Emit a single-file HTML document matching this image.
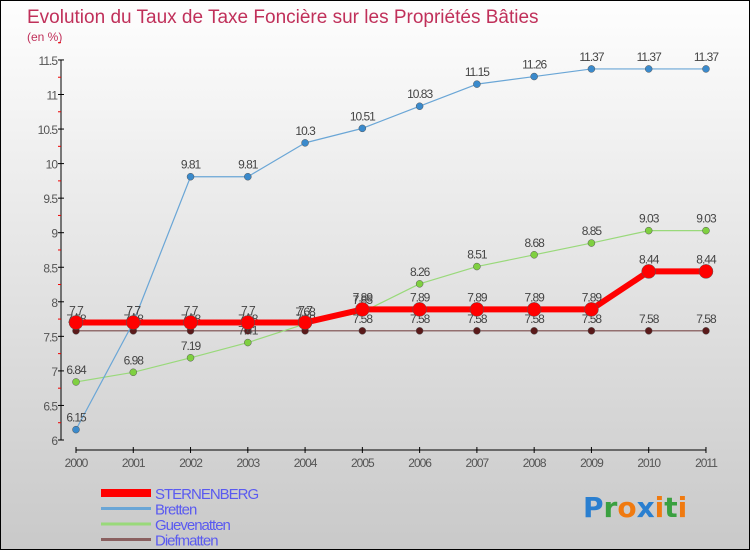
<!DOCTYPE html>
<html><head><meta charset="utf-8">
<style>
html,body{margin:0;padding:0}
body{width:750px;height:550px;overflow:hidden;font-family:"Liberation Sans",sans-serif}
#c{position:absolute;left:0;top:0;width:748px;height:548px;border:1px solid #000;background:linear-gradient(#fefefe,#c9c9c9)}
</style></head>
<body>
<div id="c">
<svg id="s" width="748" height="548"></svg>
</div>
<script>
const years=[2000,2001,2002,2003,2004,2005,2006,2007,2008,2009,2010,2011];
const sternenberg=[7.7,7.7,7.7,7.7,7.7,7.89,7.89,7.89,7.89,7.89,8.44,8.44];
const bretten=[6.15,7.7,9.81,9.81,10.3,10.51,10.83,11.15,11.26,11.37,11.37,11.37];
const guevenatten=[6.84,6.98,7.19,7.41,7.68,7.85,8.26,8.51,8.68,8.85,9.03,9.03];
const diefmatten=[7.58,7.58,7.58,7.58,7.58,7.58,7.58,7.58,7.58,7.58,7.58,7.58];
const yTicks=[6,6.5,7,7.5,8,8.5,9,9.5,10,10.5,11,11.5];
const NS="http://www.w3.org/2000/svg";
const svg=document.getElementById('s');
const X=i=>75+i*57.27;
const Y=v=>439-(v-6)*69.1;
function el(t,a,p){const e=document.createElementNS(NS,t);for(const k in a)e.setAttribute(k,a[k]);(p||svg).appendChild(e);return e;}
function txt(x,y,s,a){const e=el('text',Object.assign({x:x,y:y},a));e.textContent=s;return e;}
let t=txt(26,22,'Evolution du Taux de Taxe Foncière sur les Propriétés Bâties',{fill:'#c0305a','font-size':19});

t=txt(26,40,'(en %)',{fill:'#c0305a','font-size':12});

// axes
let a=el('line',{x1:60,y1:Y(11.5),x2:60,y2:Y(6),stroke:'#000'});

yTicks.forEach(v=>{
 el('line',{x1:57,x2:63,y1:Y(v),y2:Y(v),stroke:'#000'});
 el('line',{x1:57,x2:60,y1:Y(v+0.25),y2:Y(v+0.25),stroke:'#e00'});
 const l=txt(56,Y(v)+5,String(v),{fill:'#555','font-size':12,'text-anchor':'end','letter-spacing':'-1'});
 
});
a=el('line',{x1:X(0),y1:449,x2:X(11),y2:449,stroke:'#000'});

years.forEach((yr,i)=>{
 el('line',{x1:X(i),x2:X(i),y1:446,y2:452,stroke:'#000'});
 const l=txt(X(i),466,String(yr),{fill:'#555','font-size':12,'text-anchor':'middle','letter-spacing':'-1'});
 
});
function series(name,data,color,w,r,dot){
 const g=el('g',{});
 
 el('polyline',{points:data.map((v,i)=>X(i)+','+Y(v)).join(' '),fill:'none',stroke:color,'stroke-width':w,'stroke-linejoin':'round'},g);
 data.forEach((v,i)=>{
  const c=el('circle',{cx:X(i),cy:Y(v),r:r,fill:dot,stroke:'#555','stroke-width':0.5},g);
  
  txt(X(i),Y(v)-8,String(v),{fill:'#444','font-size':12,'text-anchor':'middle','letter-spacing':'-1'},g);
 });
}
series('diefmatten',diefmatten,'#7a4a4a',1.2,3.5,'#5a1a1a');
series('guevenatten',guevenatten,'#99d97a',1.2,3.5,'#7fd040');
series('bretten',bretten,'#6aa6d6',1.2,3.5,'#3a8acc');
series('sternenberg',sternenberg,'#f00',6,7,'#f00');
// legend
const leg=[['STERNENBERG','#f00',8],['Bretten','#6aa6d6',3],['Guevenatten','#99d97a',3],['Diefmatten','#8a6060',3]];
leg.forEach((d,i)=>{
 const g=el('g',{});
 
 const y=493+i*15.5;
 el('line',{x1:100,x2:150,y1:y-1,y2:y-1,stroke:d[1],'stroke-width':d[2]},g);
 txt(154,y+5,d[0],{fill:'#5a5af0','font-size':15,'letter-spacing':'-1'},g);
});
const p=el('text',{x:582,y:516,'font-size':28,'font-family':'"DejaVu Sans",sans-serif','font-weight':'bold'});

[['P','#2a7fd0'],['r','#3aa040'],['o','#f07a10'],['x','#2a7fd0'],['i','#f07a10'],['t','#3aa040'],['i','#f07a10']].forEach(c=>{const s=document.createElementNS(NS,'tspan');s.setAttribute('fill',c[1]);s.textContent=c[0];p.appendChild(s);});
</script>
</body></html>
